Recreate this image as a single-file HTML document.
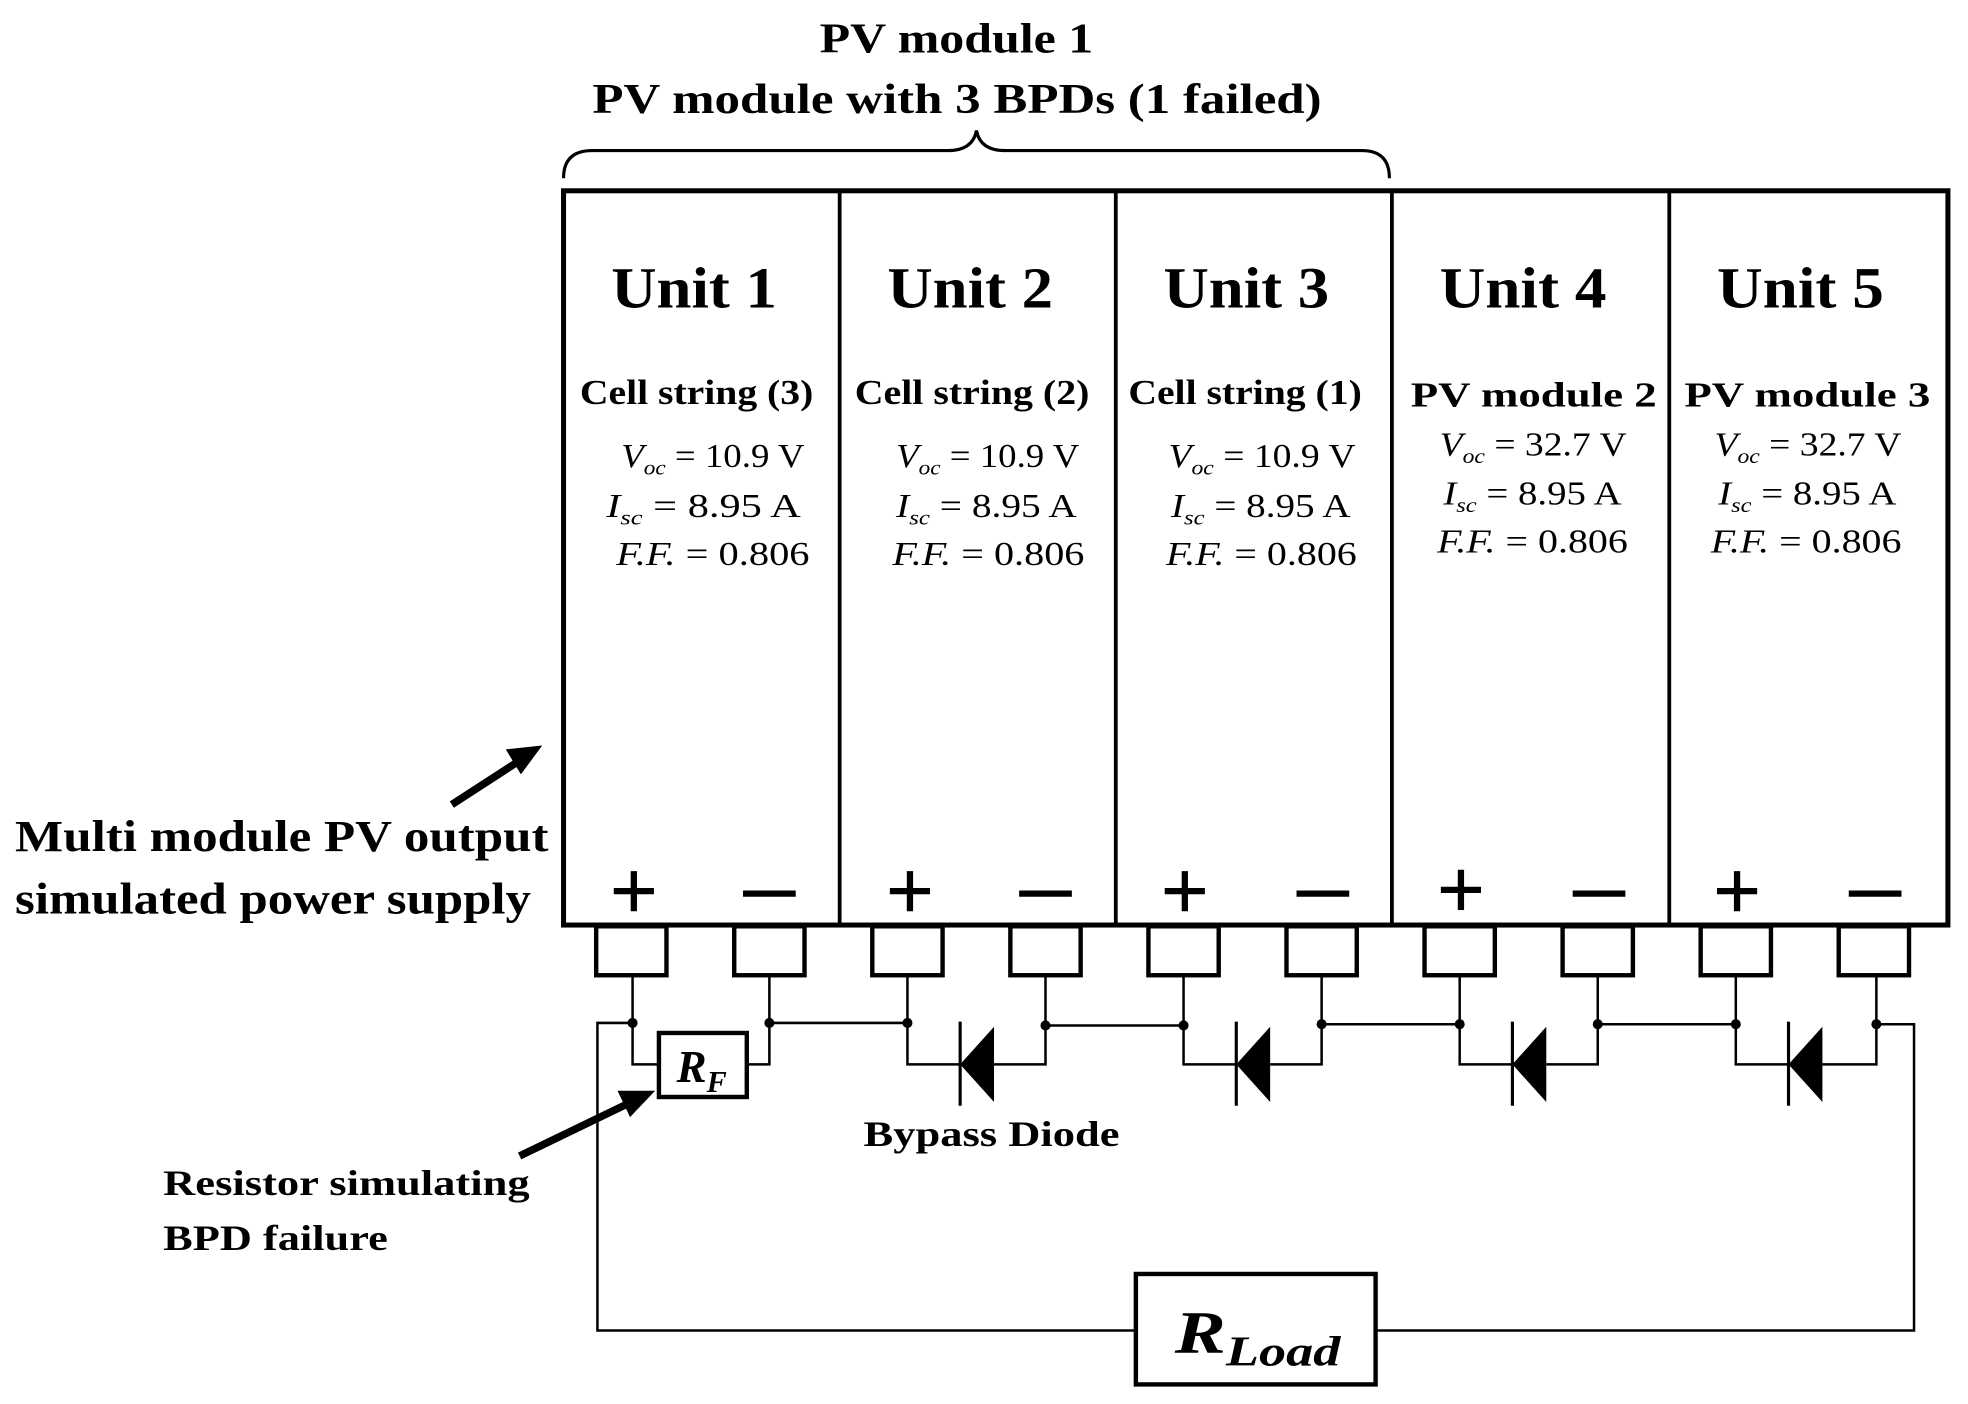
<!DOCTYPE html>
<html><head><meta charset="utf-8"><style>
html,body{margin:0;padding:0;background:#fff;width:1968px;height:1404px;overflow:hidden}
svg{display:block}
text{font-family:"Liberation Serif",serif;fill:#000}
</style></head><body>
<svg width="1968" height="1404" viewBox="0 0 1568 1118.6" preserveAspectRatio="none">
<text x="653" y="42" font-size="34" font-weight="bold" textLength="218" lengthAdjust="spacingAndGlyphs">PV module 1</text>
<text x="472" y="90" font-size="34" font-weight="bold" textLength="581" lengthAdjust="spacingAndGlyphs">PV module with 3 BPDs (1 failed)</text>
<path d="M449,142 Q449,120 472,120 L755,120 Q775,120 778,104 Q781,120 801,120 L1085,120 Q1107,120 1107,142" fill="none" stroke="#000" stroke-width="2.5"/>
<rect x="449" y="152" width="1103" height="585" fill="none" stroke="#000" stroke-width="4"/>
<g stroke="#000" stroke-width="3">
<line x1="669" y1="152" x2="669" y2="737"/><line x1="889" y1="152" x2="889" y2="737"/>
<line x1="1109" y1="152" x2="1109" y2="737"/><line x1="1330" y1="152" x2="1330" y2="737"/>
</g>
<g font-size="46" font-weight="bold">
<text x="487" y="245" textLength="132" lengthAdjust="spacingAndGlyphs">Unit 1</text>
<text x="707" y="245" textLength="132" lengthAdjust="spacingAndGlyphs">Unit 2</text>
<text x="927" y="245" textLength="132" lengthAdjust="spacingAndGlyphs">Unit 3</text>
<text x="1147" y="245" textLength="133" lengthAdjust="spacingAndGlyphs">Unit 4</text>
<text x="1368" y="245" textLength="133" lengthAdjust="spacingAndGlyphs">Unit 5</text>
</g>
<g font-size="28" font-weight="bold">
<text x="462" y="322" textLength="186" lengthAdjust="spacingAndGlyphs">Cell string (3)</text>
<text x="681" y="322" textLength="187" lengthAdjust="spacingAndGlyphs">Cell string (2)</text>
<text x="899" y="322" textLength="186" lengthAdjust="spacingAndGlyphs">Cell string (1)</text>
<text x="1124" y="324" textLength="196" lengthAdjust="spacingAndGlyphs">PV module 2</text>
<text x="1342" y="324" textLength="196" lengthAdjust="spacingAndGlyphs">PV module 3</text>
</g>
<g font-size="27">
<text x="495" y="372" textLength="146" lengthAdjust="spacingAndGlyphs"><tspan font-style="italic">V<tspan font-size="17" dy="6">oc</tspan></tspan><tspan dy="-6"> = 10.9 V</tspan></text>
<text x="483" y="412" textLength="155" lengthAdjust="spacingAndGlyphs"><tspan font-style="italic">I<tspan font-size="17" dy="6">sc</tspan></tspan><tspan dy="-6"> = 8.95 A</tspan></text>
<text x="491" y="450" textLength="154" lengthAdjust="spacingAndGlyphs"><tspan font-style="italic">F.F.</tspan>  = 0.806</text>
<text x="714" y="372" textLength="146" lengthAdjust="spacingAndGlyphs"><tspan font-style="italic">V<tspan font-size="17" dy="6">oc</tspan></tspan><tspan dy="-6"> = 10.9 V</tspan></text>
<text x="714" y="412" textLength="144" lengthAdjust="spacingAndGlyphs"><tspan font-style="italic">I<tspan font-size="17" dy="6">sc</tspan></tspan><tspan dy="-6"> = 8.95 A</tspan></text>
<text x="711" y="450" textLength="153" lengthAdjust="spacingAndGlyphs"><tspan font-style="italic">F.F.</tspan>  = 0.806</text>
<text x="931" y="372" textLength="149" lengthAdjust="spacingAndGlyphs"><tspan font-style="italic">V<tspan font-size="17" dy="6">oc</tspan></tspan><tspan dy="-6"> = 10.9 V</tspan></text>
<text x="933" y="412" textLength="143" lengthAdjust="spacingAndGlyphs"><tspan font-style="italic">I<tspan font-size="17" dy="6">sc</tspan></tspan><tspan dy="-6"> = 8.95 A</tspan></text>
<text x="929" y="450" textLength="152" lengthAdjust="spacingAndGlyphs"><tspan font-style="italic">F.F.</tspan>  = 0.806</text>
<text x="1147" y="363" textLength="149" lengthAdjust="spacingAndGlyphs"><tspan font-style="italic">V<tspan font-size="17" dy="6">oc</tspan></tspan><tspan dy="-6"> = 32.7 V</tspan></text>
<text x="1150" y="402" textLength="142" lengthAdjust="spacingAndGlyphs"><tspan font-style="italic">I<tspan font-size="17" dy="6">sc</tspan></tspan><tspan dy="-6"> = 8.95 A</tspan></text>
<text x="1145" y="440" textLength="152" lengthAdjust="spacingAndGlyphs"><tspan font-style="italic">F.F.</tspan>  = 0.806</text>
<text x="1366" y="363" textLength="149" lengthAdjust="spacingAndGlyphs"><tspan font-style="italic">V<tspan font-size="17" dy="6">oc</tspan></tspan><tspan dy="-6"> = 32.7 V</tspan></text>
<text x="1369" y="402" textLength="142" lengthAdjust="spacingAndGlyphs"><tspan font-style="italic">I<tspan font-size="17" dy="6">sc</tspan></tspan><tspan dy="-6"> = 8.95 A</tspan></text>
<text x="1363" y="440" textLength="152" lengthAdjust="spacingAndGlyphs"><tspan font-style="italic">F.F.</tspan>  = 0.806</text>
</g>
<g stroke="#000" stroke-width="5">
<line x1="489" y1="710" x2="521" y2="710"/><line x1="505" y1="694" x2="505" y2="726"/>
<line x1="592" y1="712" x2="634" y2="712"/>
<line x1="709" y1="710" x2="741" y2="710"/><line x1="725" y1="694" x2="725" y2="726"/>
<line x1="812" y1="712" x2="854" y2="712"/>
<line x1="928" y1="710" x2="960" y2="710"/><line x1="944" y1="694" x2="944" y2="726"/>
<line x1="1033" y1="712" x2="1075" y2="712"/>
<line x1="1148" y1="709" x2="1180" y2="709"/><line x1="1164" y1="693" x2="1164" y2="725"/>
<line x1="1253" y1="712" x2="1295" y2="712"/>
<line x1="1368" y1="710" x2="1400" y2="710"/><line x1="1384" y1="694" x2="1384" y2="726"/>
<line x1="1473" y1="712" x2="1515" y2="712"/>
</g>
<g fill="none" stroke="#000" stroke-width="3.5">
<rect x="475" y="738" width="56" height="39"/><rect x="585" y="738" width="56" height="39"/>
<rect x="695" y="738" width="56" height="39"/><rect x="805" y="738" width="56" height="39"/>
<rect x="915" y="738" width="56" height="39"/><rect x="1025" y="738" width="56" height="39"/>
<rect x="1135" y="738" width="56" height="39"/><rect x="1245" y="738" width="56" height="39"/>
<rect x="1355" y="738" width="56" height="39"/><rect x="1465" y="738" width="56" height="39"/>
</g>
<g fill="none" stroke="#000" stroke-width="2">
<polyline points="504,777 504,848 525,848"/>
<polyline points="613,777 613,848 595,848"/>
<polyline points="504,815 476,815 476,1060 905,1060"/>
<line x1="613" y1="815" x2="723" y2="815"/>
<polyline points="723,777 723,848 765,848"/><polyline points="792,848 833,848 833,777"/>
<line x1="833" y1="817" x2="943" y2="817"/>
<polyline points="943,777 943,848 985,848"/><polyline points="1012,848 1053,848 1053,777"/>
<line x1="1053" y1="816" x2="1163" y2="816"/>
<polyline points="1163,777 1163,848 1205,848"/><polyline points="1232,848 1273,848 1273,777"/>
<line x1="1273" y1="816" x2="1383" y2="816"/>
<polyline points="1383,777 1383,848 1425,848"/><polyline points="1452,848 1495,848 1495,777"/>
<polyline points="1495,816 1525,816 1525,1060 1096,1060"/>
</g>
<g fill="#000">
<circle cx="504" cy="815" r="4"/><circle cx="613" cy="815" r="4"/><circle cx="723" cy="815" r="4"/>
<circle cx="833" cy="817" r="4"/><circle cx="943" cy="817" r="4"/><circle cx="1053" cy="816" r="4"/>
<circle cx="1163" cy="816" r="4"/><circle cx="1273" cy="816" r="4"/><circle cx="1383" cy="816" r="4"/>
<circle cx="1495" cy="816" r="4"/>
<polygon points="765,848 792,818 792,878"/><polygon points="985,848 1012,818 1012,878"/>
<polygon points="1205,848 1232,818 1232,878"/><polygon points="1425,848 1452,818 1452,878"/>
</g>
<g stroke="#000" stroke-width="2.5">
<line x1="765" y1="814" x2="765" y2="881"/><line x1="985" y1="814" x2="985" y2="881"/>
<line x1="1205" y1="814" x2="1205" y2="881"/><line x1="1425" y1="814" x2="1425" y2="881"/>
</g>
<rect x="525" y="823" width="70" height="51" fill="#fff" stroke="#000" stroke-width="3.5"/>
<text x="539" y="862" font-size="36" font-style="italic" font-weight="bold">R<tspan font-size="24" dy="8">F</tspan></text>
<rect x="905" y="1015" width="191" height="88" fill="#fff" stroke="#000" stroke-width="3.5"/>
<text x="936" y="1078" font-size="48" font-style="italic" font-weight="bold" textLength="132" lengthAdjust="spacingAndGlyphs">R<tspan font-size="34" dy="10">Load</tspan></text>
<line x1="360" y1="641" x2="414" y2="606" stroke="#000" stroke-width="6"/>
<polygon points="432,594 403,597 415,617" fill="#000"/>
<line x1="414" y1="921" x2="503" y2="878" stroke="#000" stroke-width="6"/>
<polygon points="522,869 492,869 502,890" fill="#000"/>
<g font-weight="bold">
<text x="12" y="678" font-size="35" textLength="425" lengthAdjust="spacingAndGlyphs">Multi module PV output</text>
<text x="12" y="728" font-size="35" textLength="411" lengthAdjust="spacingAndGlyphs">simulated power supply</text>
<text x="130" y="952" font-size="29" textLength="292" lengthAdjust="spacingAndGlyphs">Resistor simulating</text>
<text x="130" y="996" font-size="29" textLength="179" lengthAdjust="spacingAndGlyphs">BPD failure</text>
<text x="688" y="913" font-size="29" textLength="204" lengthAdjust="spacingAndGlyphs">Bypass Diode</text>
</g>
</svg>
</body></html>
